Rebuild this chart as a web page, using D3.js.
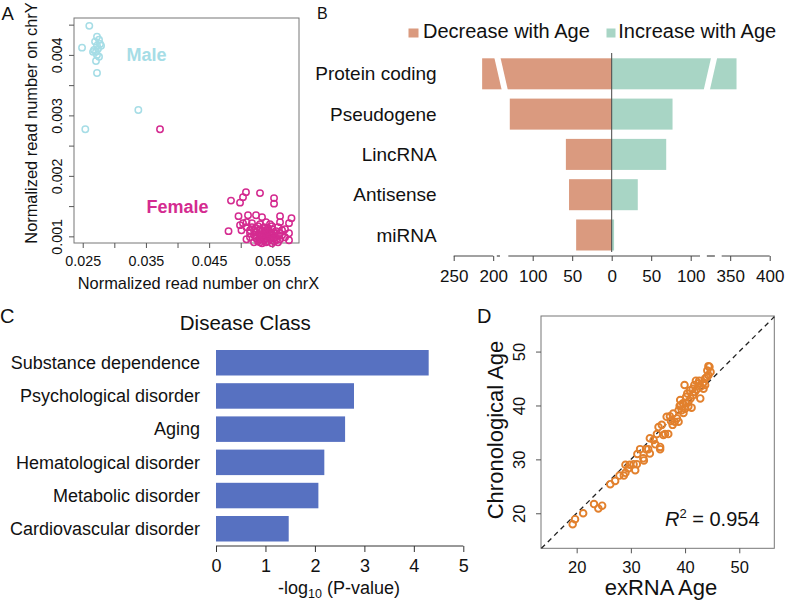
<!DOCTYPE html>
<html><head><meta charset="utf-8">
<script src="https://cdn.jsdelivr.net/npm/d3@7"></script>
<style>
body{margin:0;background:#fff}
svg{display:block}
text{font-family:"Liberation Sans",Arial,Helvetica,sans-serif;fill:#111}
</style>
</head><body>
<svg id="chart" width="788" height="601"></svg>
<script>
// ---------- Panel A data ----------
const maleX = [0.02604,0.02489,0.02726,0.02758,0.02695,0.02774,0.02726,0.0279,0.02679,0.0271,0.02742,0.02663,0.02726,0.02758,0.0271,0.02726,0.0338,0.02541];
const maleY = [0.00448,0.00412,0.0043,0.00425,0.00422,0.00418,0.00415,0.00415,0.00408,0.00405,0.0041,0.00405,0.004,0.00397,0.0039,0.0037,0.00309,0.00277];
const femaleX = [0.03723,
 0.04846,0.04989,0.05036,0.05083,0.05305,0.05527,0.05527,
 0.04965,0.05115,0.05242,0.05337,0.05622,0.05803,0.04989,0.05091,0.05036,0.05305,0.054,0.05495,0.05622,0.05764,0.05178,0.05463,
 0.04807,0.05012,0.05091,0.05147,0.05147,0.05701,0.05764,0.05091,0.0521,0.05654,0.05764,
 0.0521,0.05242,0.05242,0.05273,0.05273,0.05305,0.05305,0.05305,0.05337,0.05337,0.05337,0.05368,0.05368,0.05368,0.054,0.054,0.054,0.054,0.05432,0.05432,0.05432,0.05463,0.05463,0.05463,0.05495,0.05495,0.05495,0.05527,0.05527,0.05559,0.05559,0.0559,0.0559,0.05622,0.05654,0.05178,0.05147,0.05242,0.05273,0.0559,0.05495,0.05368,0.05432,0.05305,0.05527,0.05622,0.0521,0.05701];
const femaleY = [0.00277,
 0.001591,0.001557,0.001648,0.001731,0.001715,0.001632,0.001541,
 0.001334,0.00135,0.00135,0.001317,0.001334,0.001301,0.001185,0.001235,0.001218,0.001201,0.001235,0.001168,0.001235,0.001218,0.001218,0.001201,
 0.001086,0.001102,0.001152,0.001052,0.001102,0.001119,0.000936,0.000953,0.001019,0.001019,0.001052,
 0.000903,0.00097,0.001069,0.001003,0.00092,0.001119,0.001036,0.000953,0.000887,0.000986,0.001086,0.001152,0.001019,0.000936,0.001102,0.00097,0.001052,0.000903,0.001135,0.001003,0.00092,0.001069,0.000953,0.001036,0.000986,0.001119,0.000887,0.001052,0.00097,0.001086,0.000936,0.001019,0.001152,0.000953,0.001102,0.001152,0.000986,0.001135,0.001168,0.000903,0.001036,0.001069,0.001086,0.000903,0.00092,0.001052,0.001102,0.000986];
const aXTicks = [0.025,0.030,0.035,0.040,0.045,0.050,0.055];
const aXLabels = ["0.025","","0.035","","0.045","","0.055"];
const aYTicks = [0.001,0.0015,0.002,0.0025,0.003,0.0035,0.004,0.0045];
const aYLabels = ["0.001","","0.002","","0.003","","0.004",""];

// ---------- Panel B data ----------
const bCategories = ["Protein coding","Pseudogene","LincRNA","Antisense","miRNA"];
const bDecrease = [214,129,58,54,45];
const bIncrease = [358,77,69,33,3];
const bTicks = [-250,-200,-100,-50,0,50,100,350,400];
const bTickLabels = ["250","200","100","50","0","50","100","350","400"];
const bLegend = ["Decrease with Age","Increase with Age"];

// ---------- Panel C data ----------
const cCategories = ["Substance dependence","Psychological disorder","Aging","Hematological disorder","Metabolic disorder","Cardiovascular disorder"];
const cValues = [4.30,2.79,2.61,2.19,2.07,1.47];
const cTicks = [0,1,2,3,4,5];

// ---------- Panel D data ----------
const dExRNA = [19.26,19.7,21.2,23.2,24.0,24.7,26.2,27.1,27.9,28.7,29.0,29.0,29.5,29.8,30.5,30.8,31.1,31.2,31.7,32.3,32.4,32.8,33.2,33.5,33.5,34.2,34.5,34.8,35.1,35.4,35.4,35.7,36.0,36.3,36.6,36.9,37.2,37.4,37.7,37.8,38.1,38.5,38.8,38.8,39.0,39.1,39.4,39.6,39.7,39.9,40.0,40.2,40.4,40.6,40.6,40.9,41.0,41.2,41.4,41.5,41.7,41.8,42.0,42.2,42.5,42.6,42.8,42.9,43.3,43.4,43.7,44.0,44.1,44.3,44.5,44.7,44.3,43.7,39.2,40.2];
const dChrono = [17.96,18.9,20.0,21.7,20.9,21.4,25.4,26.0,27.0,27.0,27.5,29.0,28.3,29.0,29.1,28.0,29.1,31.0,31.9,30.2,29.8,31.9,31.9,31.1,33.9,33.6,32.8,34.7,36.0,32.3,31.9,36.4,34.5,34.7,37.9,34.7,38.0,37.1,36.4,38.5,37.0,37.6,37.0,39.1,39.9,41.0,39.1,40.4,38.6,43.8,39.4,41.6,42.2,40.7,39.8,42.8,41.3,39.6,43.1,41.9,43.8,42.5,44.6,43.0,44.1,44.6,41.3,43.5,44.1,43.1,45.0,45.3,46.5,47.3,47.2,46.2,45.6,43.8,40.1,40.4];
const dTicks = [20,30,40,50];
const dR2 = "0.954";

// ---------- drawing ----------
const svg = d3.select("#chart");
const FONT = '"Liberation Sans",Arial,Helvetica,sans-serif';

function panelLabel(t,x,y,size){
  svg.append("text").attr("x",x).attr("y",y).attr("font-size",size).text(t);
}
function styleAxis(g, size){
  g.select(".domain").remove();
  g.selectAll(".tick line").attr("stroke","#555");
  g.selectAll(".tick text").attr("font-size",size).attr("font-family",FONT).attr("fill","#111");
}

// ===== Panel A =====
(function(){
  const L=74,R=299,T=18,B=243;
  const x = d3.scaleLinear().domain([0.02362,0.05922]).range([L,R]);
  const y = d3.scaleLinear().domain([0.00089,0.00461]).range([B,T]);
  const g = svg.append("g");
  g.append("rect").attr("x",L).attr("y",T).attr("width",R-L).attr("height",B-T)
    .attr("fill","none").attr("stroke","#777").attr("stroke-width",1);
  const ax = g.append("g").attr("transform",`translate(0,${B})`)
    .call(d3.axisBottom(x).tickValues(aXTicks).tickSize(5).tickPadding(5).tickFormat((d,i)=>aXLabels[i]));
  styleAxis(ax,14.3);
  ax.selectAll(".tick text").attr("dy","0.71em").attr("y",13);
  const ay = g.append("g").attr("transform",`translate(${L},0)`)
    .call(d3.axisLeft(y).tickValues(aYTicks).tickSize(5).tickFormat((d,i)=>aYLabels[i]));
  styleAxis(ay,14.3);
  ay.selectAll(".tick text").attr("transform","rotate(-90)").attr("x",0).attr("y",-12.5).attr("dy",0).attr("text-anchor","middle");
  const male = maleX.map((v,i)=>[v,maleY[i]]);
  const female = femaleX.map((v,i)=>[v,femaleY[i]]);
  g.selectAll(".m").data(male).join("circle").attr("cx",d=>x(d[0])).attr("cy",d=>y(d[1])).attr("r",3.2)
    .attr("fill","none").attr("stroke","#a6dde6").attr("stroke-width",1.5);
  g.selectAll(".f").data(female).join("circle").attr("cx",d=>x(d[0])).attr("cy",d=>y(d[1])).attr("r",3.2)
    .attr("fill","none").attr("stroke","#d42b90").attr("stroke-width",1.5);
  g.append("text").attr("x",126.5).attr("y",61).attr("font-size",18).attr("font-weight","bold").style("fill","#a6dde6").text("Male");
  g.append("text").attr("x",146.5).attr("y",212.5).attr("font-size",18).attr("font-weight","bold").style("fill","#d42b90").text("Female");
  g.append("text").attr("x",(L+R)/2+12).attr("y",289).attr("text-anchor","middle").attr("font-size",16.4).text("Normalized read number on chrX");
  g.append("text").attr("transform","translate(37,123) rotate(-90)").attr("text-anchor","middle").attr("font-size",16.4).text("Normalized read number on chrY");
  panelLabel("A",1.5,20,18.5);
})();

// ===== Panel B =====
(function(){
  const x0 = 611.7, u = 0.79;
  const x = d3.scaleLinear().domain([-250,-200,-130,0,110,340,400])
    .range([x0-200*u,x0-150*u,x0-130*u,x0,x0+110*u,x0+140*u,x0+200*u]);
  const y = d3.scaleBand().domain(bCategories).range([58.3,250.5]).paddingInner(0.23);
  const cDec="#da9a7f", cInc="#a8d5c5";
  const g = svg.append("g");
  g.selectAll(".dec").data(bCategories).join("rect")
    .attr("x",(d,i)=>x(-bDecrease[i])).attr("width",(d,i)=>x(0)-x(-bDecrease[i]))
    .attr("y",d=>y(d)).attr("height",y.bandwidth()).attr("fill",cDec);
  g.selectAll(".inc").data(bCategories).join("rect")
    .attr("x",x(0)).attr("width",(d,i)=>x(bIncrease[i])-x(0))
    .attr("y",d=>y(d)).attr("height",y.bandwidth()).attr("fill",cInc);
  // broken-bar slashes on the first category
  const yt = y(bCategories[0])-2, yb = y(bCategories[0])+y.bandwidth()+2;
  const lm = x(-165), rm = x(225);
  g.append("line").attr("x1",lm-4).attr("y1",yt).attr("x2",lm+4).attr("y2",yb).attr("stroke","#fff").attr("stroke-width",6);
  g.append("line").attr("x1",rm+4).attr("y1",yt).attr("x2",rm-4).attr("y2",yb).attr("stroke","#fff").attr("stroke-width",6);
  // centre line
  g.append("line").attr("x1",x(0)).attr("x2",x(0)).attr("y1",53).attr("y2",252).attr("stroke","#444").attr("stroke-width",1);
  // category labels
  g.selectAll(".cl").data(bCategories).join("text").attr("x",436.7).attr("y",d=>y(d)+y.bandwidth()/2).attr("dy","0.35em")
    .attr("text-anchor","end").attr("font-size",19).text(d=>d);
  // broken axis
  const axY = 256;
  const segs = [[-250,-200],[-184,-170],[-133,124],[190,268],[334,400]];
  g.selectAll(".seg").data(segs).join("line").attr("x1",d=>x(d[0])).attr("x2",d=>x(d[1])).attr("y1",axY).attr("y2",axY)
    .attr("stroke","#444").attr("stroke-width",1.2);
  const ax = g.append("g").attr("transform",`translate(0,${axY})`)
    .call(d3.axisBottom(x).tickValues(bTicks).tickSize(5).tickFormat((d,i)=>bTickLabels[i]));
  styleAxis(ax,17);
  ax.selectAll(".tick line").attr("stroke","#444");
  ax.selectAll(".tick text").attr("y",14).attr("dy","0.71em");
  // legend
  g.append("rect").attr("x",408.5).attr("y",28.5).attr("width",10).attr("height",9).attr("fill",cDec);
  g.append("text").attr("x",423).attr("y",37.7).attr("font-size",20).text(bLegend[0]);
  g.append("rect").attr("x",606.5).attr("y",28.5).attr("width",9).attr("height",9).attr("fill",cInc);
  g.append("text").attr("x",618.3).attr("y",37.7).attr("font-size",20).text(bLegend[1]);
  panelLabel("B",317,18.5,16);
})();

// ===== Panel C =====
(function(){
  const x = d3.scaleLinear().domain([0,5]).range([216,463.3]);
  const y = d3.scaleBand().domain(cCategories).range([350,541.5]).paddingInner(0.232);
  const g = svg.append("g");
  g.selectAll("rect").data(cCategories).join("rect").attr("x",x(0)).attr("y",d=>y(d))
    .attr("width",(d,i)=>x(cValues[i])-x(0)).attr("height",y.bandwidth()).attr("fill","#5771c1");
  g.selectAll(".lab").data(cCategories).join("text").attr("x",200).attr("y",d=>y(d)+y.bandwidth()/2).attr("dy","0.35em")
    .attr("text-anchor","end").attr("font-size",18).text(d=>d);
  const ax = g.append("g").attr("transform","translate(0,546)")
    .call(d3.axisBottom(x).tickValues(cTicks).tickSize(6).tickFormat(d3.format("d")));
  ax.select(".domain").attr("stroke","#333").attr("d","M216,0H463.3");
  ax.selectAll(".tick line").attr("stroke","#333");
  ax.selectAll(".tick text").attr("font-size",18).attr("font-family",FONT).attr("fill","#111").attr("y",13).attr("dy","0.71em");
  g.append("text").attr("x",245.3).attr("y",330).attr("text-anchor","middle").attr("font-size",20.5).text("Disease Class");
  const t = g.append("text").attr("x",339).attr("y",594).attr("text-anchor","middle").attr("font-size",18);
  t.append("tspan").text("-log");
  t.append("tspan").attr("font-size",12.5).attr("dy",4).text("10");
  t.append("tspan").attr("dy",-4).text(" (P-value)");
  panelLabel("C",0,323,20);
})();

// ===== Panel D =====
(function(){
  const L=541,R=774.3,T=316,B=548.3;
  const x = d3.scaleLinear().domain([13.42,56.46]).range([L,R]);
  const y = d3.scaleLinear().domain([13.5,56.6]).range([B,T]);
  const g = svg.append("g");
  g.append("rect").attr("x",L).attr("y",T).attr("width",R-L).attr("height",B-T)
    .attr("fill","none").attr("stroke","#777").attr("stroke-width",1);
  g.append("line").attr("x1",x(13.5)).attr("y1",y(13.5)).attr("x2",x(56.46)).attr("y2",y(56.46))
    .attr("stroke","#222").attr("stroke-width",1.3).attr("stroke-dasharray","5,4");
  const pts = dExRNA.map((v,i)=>[v,dChrono[i]]);
  g.selectAll("circle").data(pts).join("circle").attr("cx",d=>x(d[0])).attr("cy",d=>y(d[1])).attr("r",3.3)
    .attr("fill","none").attr("stroke","#e2802d").attr("stroke-width",1.9);
  const ax = g.append("g").attr("transform",`translate(0,${B})`)
    .call(d3.axisBottom(x).tickValues(dTicks).tickSize(5).tickFormat(d3.format("d")));
  styleAxis(ax,16.5);
  ax.selectAll(".tick text").attr("y",13).attr("dy","0.71em");
  const ay = g.append("g").attr("transform",`translate(${L},0)`)
    .call(d3.axisLeft(y).tickValues(dTicks).tickSize(5).tickFormat(d3.format("d")));
  styleAxis(ay,16.5);
  ay.selectAll(".tick text").attr("transform","rotate(-90)").attr("x",0).attr("y",-16).attr("dy",0).attr("text-anchor","middle");
  const r = g.append("text").attr("x",665).attr("y",526).attr("font-size",20);
  r.append("tspan").attr("font-style","italic").text("R");
  r.append("tspan").attr("font-size",13).attr("dy",-8).text("2");
  r.append("tspan").attr("dy",8).text(" = " + dR2);
  g.append("text").attr("x",661).attr("y",595).attr("text-anchor","middle").attr("font-size",22).text("exRNA Age");
  g.append("text").attr("transform","translate(503,430) rotate(-90)").attr("text-anchor","middle").attr("font-size",22).text("Chronological Age");
  panelLabel("D",477,323,20);
})();
</script>
</body></html>
